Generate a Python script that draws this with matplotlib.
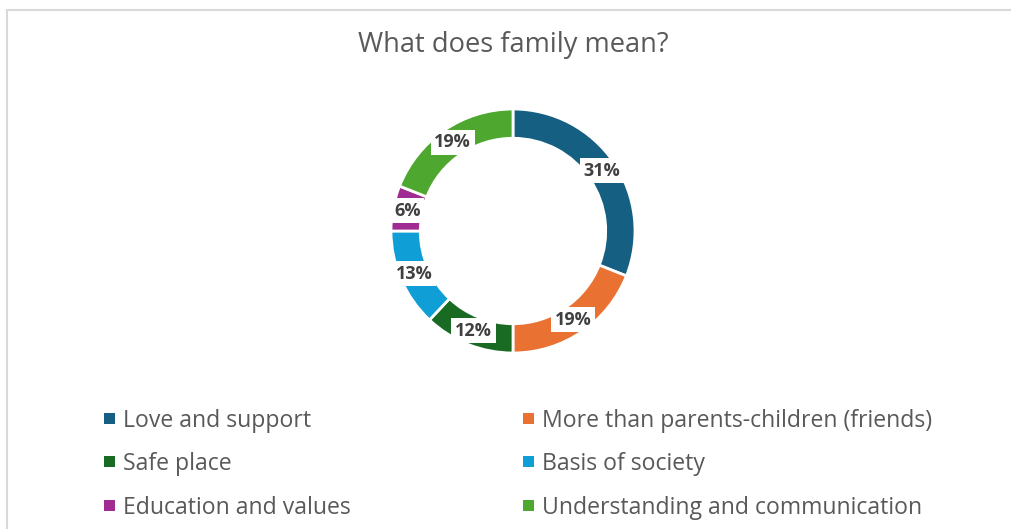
import numpy as np
import matplotlib.pyplot as plt
from matplotlib.patches import Rectangle

# data
categories = ["Love and support", "More than parents-children (friends)", "Safe place",
              "Basis of society", "Education and values", "Understanding and communication"]
shares = [31, 19, 12, 13, 6, 19]
colors = ["#156082", "#E97132", "#196B24", "#0F9ED5", "#A02B93", "#4EA72E"]

plt.rcParams['font.family'] = ['Open Sans', 'DejaVu Sans']
text_color = "#595959"

fig = plt.figure(figsize=(10.11, 5.29), dpi=100)
W, H = 1011, 529

# light chart border
fig.patches.append(Rectangle((7 / W, -0.1), 1.1, 1 - 10 / H + 0.1, transform=fig.transFigure,
                             fill=False, edgecolor="#d9d9d9", linewidth=1.5))

fig.text(513 / W, 1 - 45 / H, "What does family mean?", ha="center", va="center",
         fontsize=19.6, color=text_color)

# donut
cx, cy, r = 513, 231, 122
ax = fig.add_axes([(cx - r) / W, (H - cy - r) / H, 2 * r / W, 2 * r / H])
ring = 0.24
wedges, _ = ax.pie(shares, colors=colors, startangle=90, counterclock=False, radius=1,
                   wedgeprops=dict(width=ring, edgecolor="white", linewidth=2))
ax.set_xlim(-1, 1)
ax.set_ylim(-1, 1)
ax.set_aspect("equal")
ax.axis("off")

mid_r = 1 - ring / 2
for w, s in zip(wedges, shares):
    ang = np.deg2rad((w.theta1 + w.theta2) / 2)
    ax.text(mid_r * np.cos(ang), mid_r * np.sin(ang), f"{s}%", ha="center", va="center",
            fontsize=13, fontweight="bold", color="#404040",
            bbox=dict(boxstyle="square,pad=0.2", facecolor="white", edgecolor="none"))

# legend: two columns, filled row by row
col_x = [104, 523]
row_y0, row_dy, sq = 418, 43.5, 11
for i, (name, c) in enumerate(zip(categories, colors)):
    x = col_x[i % 2]
    y = row_y0 + row_dy * (i // 2)
    fig.patches.append(Rectangle((x / W, (H - y - sq / 2) / H), sq / W, sq / H,
                                 transform=fig.transFigure, facecolor=c, edgecolor="none"))
    fig.text((x + 19) / W, (H - y) / H, name, ha="left", va="center_baseline",
             fontsize=16.6, color=text_color)

fig.savefig("out.png", dpi=100, facecolor="white")
